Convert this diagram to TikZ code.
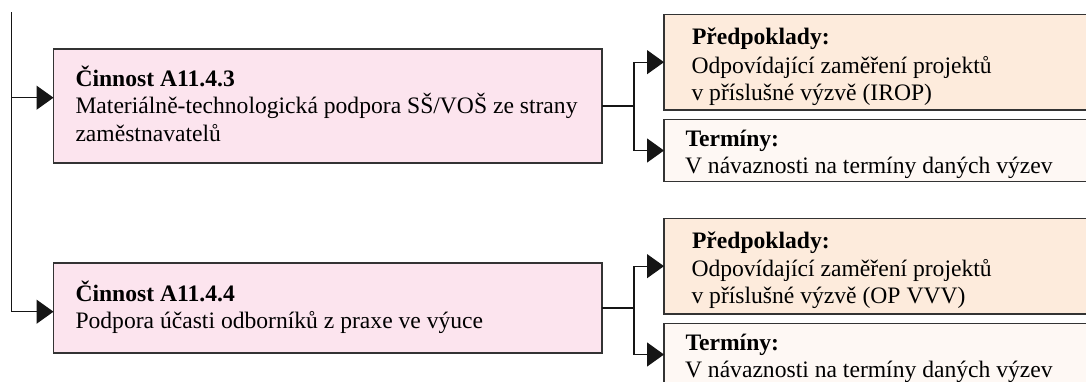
\documentclass[tikz,border=0pt]{standalone}
\usepackage{fontspec}
\setmainfont{Liberation Serif}
\usetikzlibrary{arrows.meta}
\definecolor{actfill}{HTML}{FCE4EE}
\definecolor{predfill}{HTML}{FDEBDC}
\definecolor{termfill}{HTML}{FEF8F4}
\definecolor{boxline}{HTML}{333333}
\definecolor{connline}{HTML}{151515}
\tikzset{
  panel/.style={draw=boxline, line width=1.1pt, rectangle, inner sep=0pt, outer sep=0pt},
  actbox/.style={panel, fill=actfill, minimum width=548.5pt},
  predbox/.style={panel, fill=predfill, minimum width=436pt, minimum height=95.7pt},
  termbox/.style={panel, fill=termfill, minimum width=436pt, minimum height=62.4pt},
  txt/.style={anchor=base west, inner sep=0pt, outer sep=0pt, text=black, font=\fontsize{23.6}{27}\selectfont},
  btxt/.style={txt, font=\fontsize{23.6}{27}\selectfont\bfseries},
  conn/.style={draw=connline, line width=1.3pt},
  arrowconn/.style={conn, -{Triangle[length=17pt,width=24pt]}}
}
\begin{document}
\begin{tikzpicture}[x=1pt,y=-1pt]
\useasboundingbox (0,0) rectangle (1086,381);
\clip (0,0) rectangle (1086,381);

% boxes
\node[actbox, minimum height=114pt] (A1) at (327.75,106) {};
\node[actbox, minimum height=90pt] (A2) at (327.75,308) {};
\node[predbox] (P1) at (882,62.15) {};
\node[termbox] (T1) at (882,150.5) {};
\node[predbox] (P2) at (882,266.15) {};
\node[termbox] (T2) at (882,354.5) {};

% texts
\node[btxt] (a1t) at (75.5,86) {Činnost A11.4.3};
\node[txt] (a1l1) at (75.5,113.5) {Materiálně-technologická podpora SŠ/VOŠ ze strany};
\node[txt] (a1l2) at (75.5,141) {zaměstnavatelů};

\node[btxt] (a2t) at (75.5,301.5) {Činnost A11.4.4};
\node[txt] (a2l1) at (75.5,328.5) {Podpora účasti odborníků z praxe ve výuce};

\node[btxt] (p1t) at (692,44.3) {Předpoklady:};
\node[txt] (p1l1) at (691.5,73.3) {Odpovídající zaměření projektů};
\node[txt] (p1l2) at (691.5,100.5) {v příslušné výzvě (IROP)};

\node[btxt] (t1t) at (685.5,146.7) {Termíny:};
\node[txt] (t1l1) at (685,173.3) {V návaznosti na termíny daných výzev};

\node[btxt] (p2t) at (692,248) {Předpoklady:};
\node[txt] (p2l1) at (691.5,276.5) {Odpovídající zaměření projektů};
\node[txt] (p2l2) at (691.5,303.8) {v příslušné výzvě (OP VVV)};

\node[btxt] (t2t) at (685.5,350.3) {Termíny:};
\node[txt] (t2l1) at (685,377) {V návaznosti na termíny daných výzev};

% left trunk
\coordinate (top) at (11.7,12);
\coordinate (j1) at (11.7,97.7);
\draw[conn] (top) -- (j1);
\draw[arrowconn] (j1) -- (A1.west |- j1);
\draw[arrowconn] (j1) |- (A2.west |- 0,311.7);

% right branches
\coordinate (b1) at ([xshift=32pt]A1.east);
\draw[conn] (A1.east) -- (b1);
\draw[arrowconn] (b1) |- (P1.west);
\draw[arrowconn] (b1) |- (T1.west);

\coordinate (b2) at ([xshift=32pt]A2.east);
\draw[conn] (A2.east) -- (b2);
\draw[arrowconn] (b2) |- (P2.west);
\draw[arrowconn] (b2) |- (T2.west);
\end{tikzpicture}
\end{document}
